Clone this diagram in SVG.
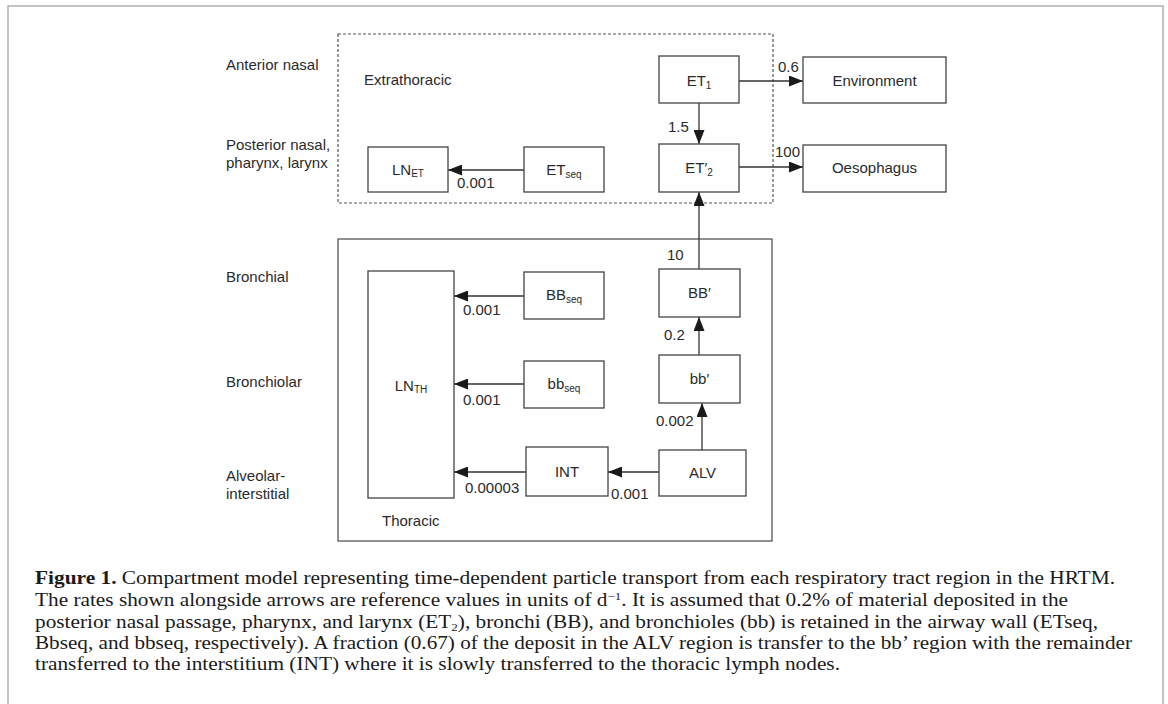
<svg xmlns="http://www.w3.org/2000/svg" width="1168" height="704" viewBox="0 0 1168 704">
<defs>
<marker id="ah" markerWidth="14" markerHeight="11" refX="14" refY="5.5" orient="auto" markerUnits="userSpaceOnUse">
<path d="M0,0 L14,5.5 L0,11 Z" fill="#1a1a1a"/>
</marker>
<style>
.t{font-family:"Liberation Sans",Arial,sans-serif;font-size:15px;fill:#2a2a2a}
.c{text-anchor:middle}
.sub{font-size:10px}
.box{fill:#fff;stroke:#444;stroke-width:1.3}
.ln{stroke:#333;stroke-width:1.3;fill:none;marker-end:url(#ah)}
.cap{font-family:"Liberation Serif","Times New Roman",serif;font-size:18px;fill:#1a1a1a}
</style>
</defs>
<rect x="0" y="0" width="1168" height="704" fill="#fff"/>
<rect x="8" y="6" width="1155" height="710" fill="none" stroke="#b0b0b0" stroke-width="1.5"/>

<g id="regions">
<rect id="extrathoracic" x="338" y="34" width="435" height="169" fill="none" stroke="#555" stroke-width="1.2" stroke-dasharray="3,2"/>
<rect id="thoracic" x="338" y="239" width="434" height="302" fill="none" stroke="#555" stroke-width="1.3"/>
<text class="t" x="364" y="85">Extrathoracic</text>
<text class="t" x="382" y="526">Thoracic</text>
</g>

<g id="side-labels">
<text class="t" x="226" y="70">Anterior nasal</text>
<text class="t" x="226" y="150">Posterior nasal,</text>
<text class="t" x="226" y="168">pharynx, larynx</text>
<text class="t" x="226" y="282">Bronchial</text>
<text class="t" x="226" y="387">Bronchiolar</text>
<text class="t" x="226" y="481">Alveolar-</text>
<text class="t" x="226" y="499">interstitial</text>
</g>

<g id="connectors">
<line class="ln" x1="739" y1="81" x2="803" y2="81"/>
<line class="ln" x1="699" y1="103" x2="699" y2="144"/>
<line class="ln" x1="739" y1="167" x2="803" y2="167"/>
<line class="ln" x1="524" y1="170" x2="448" y2="170"/>
<line class="ln" x1="699" y1="269" x2="699" y2="192"/>
<line class="ln" x1="699" y1="355" x2="699" y2="317"/>
<line class="ln" x1="702" y1="450" x2="702" y2="403"/>
<line class="ln" x1="524" y1="296" x2="454" y2="296"/>
<line class="ln" x1="524" y1="384" x2="454" y2="384"/>
<line class="ln" x1="526" y1="472" x2="454" y2="472"/>
<line class="ln" x1="659" y1="472" x2="608" y2="472"/>
<text class="t" x="778" y="72">0.6</text>
<text class="t" x="668" y="132">1.5</text>
<text class="t" x="775" y="157">100</text>
<text class="t" x="457" y="188">0.001</text>
<text class="t" x="667" y="260">10</text>
<text class="t" x="664" y="340">0.2</text>
<text class="t" x="463" y="315">0.001</text>
<text class="t" x="463" y="405">0.001</text>
<text class="t" x="656" y="426">0.002</text>
<text class="t" x="465" y="493">0.00003</text>
<text class="t" x="611" y="499">0.001</text>
</g>

<g id="ET1">
<rect class="box" x="659" y="56" width="80" height="47"/>
<text class="t c" x="699" y="86">ET<tspan class="sub" dy="3">1</tspan></text>
</g>
<g id="Environment">
<rect class="box" x="803" y="57" width="143" height="46"/>
<text class="t c" x="874.5" y="86">Environment</text>
</g>
<g id="ET2">
<rect class="box" x="659" y="144" width="80" height="48"/>
<text class="t c" x="699" y="173">ET′<tspan class="sub" dy="3">2</tspan></text>
</g>
<g id="Oesophagus">
<rect class="box" x="803" y="145" width="143" height="47"/>
<text class="t c" x="874.5" y="173">Oesophagus</text>
</g>
<g id="LNET">
<rect class="box" x="368" y="147" width="80" height="45"/>
<text class="t c" x="408" y="175">LN<tspan class="sub" dy="2">ET</tspan></text>
</g>
<g id="ETseq">
<rect class="box" x="524" y="147" width="80" height="45"/>
<text class="t c" x="564" y="175">ET<tspan class="sub" dy="3">seq</tspan></text>
</g>
<g id="BB">
<rect class="box" x="659" y="269" width="81" height="48"/>
<text class="t c" x="699.5" y="298">BB′</text>
</g>
<g id="bb">
<rect class="box" x="659" y="355" width="81" height="48"/>
<text class="t c" x="699.5" y="384">bb′</text>
</g>
<g id="BBseq">
<rect class="box" x="524" y="272" width="80" height="47"/>
<text class="t c" x="564" y="300">BB<tspan class="sub" dy="3">seq</tspan></text>
</g>
<g id="bbseq">
<rect class="box" x="524" y="361" width="80" height="47"/>
<text class="t c" x="564" y="389">bb<tspan class="sub" dy="3">seq</tspan></text>
</g>
<g id="LNTH">
<rect class="box" x="368" y="271" width="86" height="227"/>
<text class="t c" x="411" y="391">LN<tspan class="sub" dy="2">TH</tspan></text>
</g>
<g id="INT">
<rect class="box" x="526" y="447" width="82" height="49"/>
<text class="t c" x="567" y="477">INT</text>
</g>
<g id="ALV">
<rect class="box" x="659" y="450" width="87" height="46"/>
<text class="t c" x="702.5" y="478">ALV</text>
</g>

<g id="caption">
<text class="cap" x="35" y="584" textLength="1080" lengthAdjust="spacingAndGlyphs"><tspan font-weight="bold">Figure 1.</tspan> Compartment model representing time-dependent particle transport from each respiratory tract region in the HRTM.</text>
<text class="cap" x="35" y="606" textLength="1033" lengthAdjust="spacingAndGlyphs">The rates shown alongside arrows are reference values in units of d<tspan font-size="11" dy="-6">−1</tspan><tspan dy="6">. It is assumed that 0.2% of material deposited in the</tspan></text>
<text class="cap" x="35" y="628" textLength="1063" lengthAdjust="spacingAndGlyphs">posterior nasal passage, pharynx, and larynx (ET<tspan font-size="11" dy="3">2</tspan><tspan dy="-3">), bronchi (BB), and bronchioles (bb) is retained in the airway wall (ETseq,</tspan></text>
<text class="cap" x="35" y="649" textLength="1097" lengthAdjust="spacingAndGlyphs">Bbseq, and bbseq, respectively). A fraction (0.67) of the deposit in the ALV region is transfer to the bb’ region with the remainder</text>
<text class="cap" x="35" y="670" textLength="805" lengthAdjust="spacingAndGlyphs">transferred to the interstitium (INT) where it is slowly transferred to the thoracic lymph nodes.</text>
</g>
</svg>
